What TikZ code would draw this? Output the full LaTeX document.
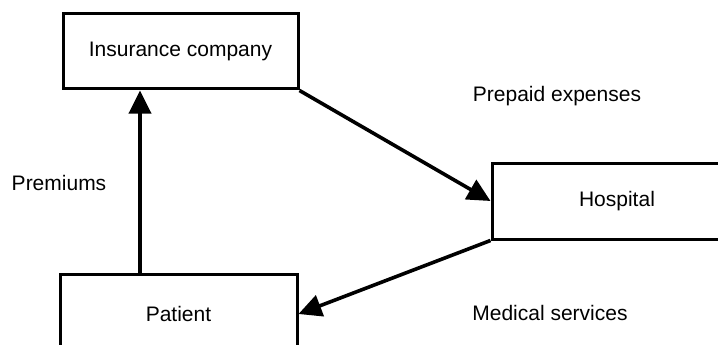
\documentclass[tikz,border=0pt]{standalone}
\usepackage{fontspec}
\setmainfont{Liberation Sans}
\usetikzlibrary{arrows.meta}

\begin{document}
\begin{tikzpicture}[x=1pt,y=-1pt,
    font=\fontsize{21}{25}\selectfont,
    party/.style={draw,line width=3pt,inner sep=0pt},
    flow/.style={line width=3.6pt,-{Triangle[length=23pt,width=22pt]}}]
    \useasboundingbox (0,0) rectangle (718,345);
    \clip (0,0) rectangle (718,345);
    \node[party,minimum width=235pt,minimum height=75pt] (ins) at (180.5,51.5) {Insurance company};
    \node[party,minimum width=250pt,minimum height=76pt] (hosp) at (617,201) {Hospital};
    \node[party,minimum width=237pt,minimum height=80pt] (pat) at (178.5,314) {Patient};
    \node (prem) at (59,183) {Premiums};
    \node (prep) at (557,96) {Prepaid expenses};
    \node (med) at (550,313) {Medical services};
    \draw[flow] ([xshift=-38.5pt]pat.north) -- ([xshift=-38.5pt]pat.north |- ins.south);
    \draw[flow] (ins.south east) -- (hosp.west);
    \draw[flow] (hosp.south west) -- (pat.east);
\end{tikzpicture}
\end{document}
